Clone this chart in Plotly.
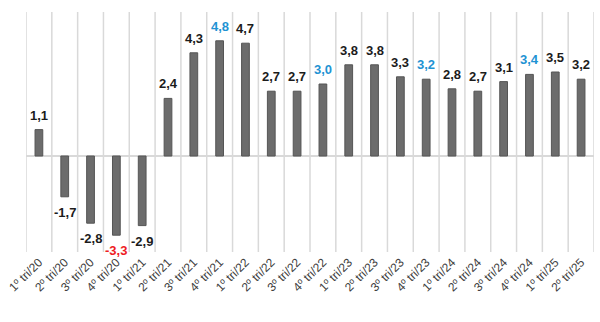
import plotly.graph_objects as go

# Quarterly growth, % vs same quarter of previous year
quarters = [
    "1º tri/20", "2º tri/20", "3º tri/20", "4º tri/20",
    "1º tri/21", "2º tri/21", "3º tri/21", "4º tri/21",
    "1º tri/22", "2º tri/22", "3º tri/22", "4º tri/22",
    "1º tri/23", "2º tri/23", "3º tri/23", "4º tri/23",
    "1º tri/24", "2º tri/24", "3º tri/24", "4º tri/24",
    "1º tri/25", "2º tri/25",
]
values = [1.1, -1.7, -2.8, -3.3, -2.9, 2.4, 4.3, 4.8, 4.7, 2.7, 2.7, 3.0,
          3.8, 3.8, 3.3, 3.2, 2.8, 2.7, 3.1, 3.4, 3.5, 3.2]
# Year-closing quarters are highlighted (red for the negative year)
highlight = ["", "", "", "neg", "", "", "", "pos", "", "", "", "pos",
             "", "", "", "pos", "", "", "", "pos", "", ""]

label_colors = {"": "#1c1c1c", "pos": "#1f93d3", "neg": "#ee1c24"}
positions = list(range(len(quarters)))
boundaries = [p - 0.5 for p in positions] + [positions[-1] + 0.5]

fig = go.Figure(
    go.Bar(
        x=positions,
        y=values,
        marker=dict(color="#6c6c6c", line=dict(color="#555555", width=1)),
        width=0.3,
        hoverinfo="skip",
    )
)

# Value labels above positive bars, below negative bars
for x, v, h in zip(positions, values, highlight):
    fig.add_annotation(
        x=x,
        y=v,
        text=f"<b>{v:.1f}</b>".replace(".", ","),
        showarrow=False,
        yanchor="bottom" if v >= 0 else "top",
        yshift=5 if v >= 0 else -6,
        font=dict(family="Liberation Sans", size=13, color=label_colors[h]),
    )

# Separator lines between quarters, spanning the full plot height
for b in boundaries:
    fig.add_shape(
        type="line",
        xref="x", x0=b, x1=b,
        yref="paper", y0=0, y1=1,
        line=dict(color="#d9d9d9", width=1.5),
        layer="below",
    )

fig.update_layout(
    width=600,
    height=322,
    margin=dict(l=26, r=6, t=12, b=70),
    paper_bgcolor="white",
    plot_bgcolor="white",
    showlegend=False,
    font=dict(family="Liberation Sans"),
    xaxis=dict(
        range=[boundaries[0], boundaries[-1]],
        tickmode="array",
        tickvals=positions,
        ticktext=quarters,
        showgrid=False,
        ticks="",
        tickangle=-45,
        tickfont=dict(size=12, color="#404040"),
        showline=False,
        zeroline=False,
    ),
    yaxis=dict(
        range=[-4, 6],
        showgrid=False,
        showticklabels=False,
        zeroline=True,
        zerolinecolor="#d9d9d9",
        zerolinewidth=1.5,
        showline=False,
    ),
)

fig.write_html("out.html")
